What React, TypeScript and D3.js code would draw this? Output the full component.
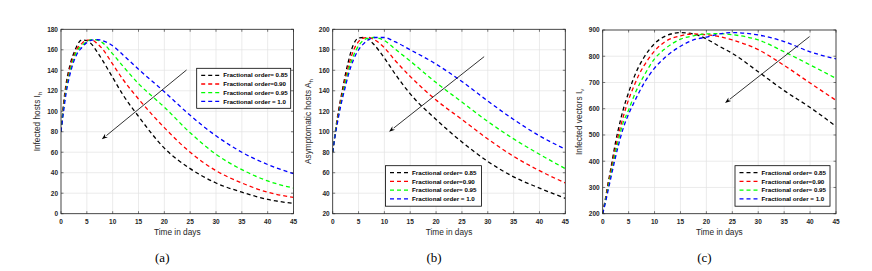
import React from 'react';
import * as d3 from 'd3';

// ---------- data ----------
const timeAB = [0, 0.5, 1, 1.5, 2, 2.5, 3, 4, 5, 6, 7, 8, 10, 12, 15, 20, 25, 30, 35, 40, 45];
const timeC = [0, 0.5, 1, 1.5, 2, 2.5, 3, 4, 5, 6, 7, 8, 10, 12, 15, 17.5, 20, 22.5, 25, 30, 35, 40, 45];

const legendLabels = [
  'Fractional order= 0.85',
  'Fractional order=0.90',
  'Fractional order= 0.95',
  'Fractional order = 1.0',
];
const seriesColors = ['#000000', '#ff0000', '#00ff00', '#0000ff'];

// (a) Infected hosts I_h
const ihOrder085 = [80, 108, 127, 140, 150, 157, 163, 169.5, 169, 165, 158, 150, 133, 116, 95, 64, 44, 30, 21, 14, 10];
const ihOrder090 = [80, 105, 124, 137, 147, 154, 160, 166, 169.5, 169.5, 166, 161, 146, 131, 112, 84, 60, 42, 30, 21, 16];
const ihOrder095 = [80, 103, 121, 134, 144, 152, 158, 164, 168, 170, 169.5, 167, 156, 144, 127, 104, 79, 58, 43, 32, 25];
const ihOrder100 = [80, 100, 118, 131, 141, 149, 155, 162, 167, 169.5, 170, 169, 164, 155, 141, 119, 96, 76, 60, 48, 39];

// (b) Asymptomatic hosts A_h
const ahOrder085 = [80, 100, 117, 131, 144, 157, 168, 185, 191.5, 192, 190, 185, 172, 157, 137, 112, 90, 71, 56, 45, 35];
const ahOrder090 = [80, 99, 115, 129, 141, 153, 163, 179, 188, 191.5, 192, 190, 182, 170, 154, 131, 112, 93, 76, 62, 50];
const ahOrder095 = [80, 98, 113, 126, 138, 149, 159, 174, 184, 189.5, 191.5, 192, 189, 181, 169, 148, 129, 110, 93, 78, 64];
const ahOrder100 = [80, 97, 111, 124, 135, 145, 155, 170, 180, 186, 190, 192, 192, 188, 180, 166, 149, 130, 112, 96, 83];

// (c) Infected vectors I_v
const ivOrder085 = [200, 255, 312, 365, 420, 475, 520, 600, 662, 718, 762, 797, 848, 876, 890, 885, 866, 838, 811, 741, 669, 605, 533];
const ivOrder090 = [200, 250, 305, 355, 405, 453, 497, 572, 635, 685, 730, 765, 820, 855, 878, 885, 882, 875, 862, 825, 765, 698, 632];
const ivOrder095 = [200, 245, 295, 343, 390, 437, 478, 550, 595, 647, 690, 727, 790, 828, 865, 878, 885, 886, 882, 862, 817, 767, 716];
const ivOrder100 = [200, 240, 285, 330, 375, 418, 458, 528, 580, 622, 662, 698, 755, 795, 838, 862, 873, 885, 890, 881, 856, 817, 790];

const xTicks = [0, 5, 10, 15, 20, 25, 30, 35, 40, 45];
const yTicksA = [0, 20, 40, 60, 80, 100, 120, 140, 160, 180];
const yTicksB = [20, 40, 60, 80, 100, 120, 140, 160, 180, 200];
const yTicksC = [200, 300, 400, 500, 600, 700, 800, 900];

// arrows: [tStart, vStart, tEnd, vEnd]
const arrowA = [24.3, 140.3, 7.9, 72.6];
const arrowB = [29.3, 173.3, 10.9, 100];
const arrowC = [39.9, 875, 23.6, 622];

// ---------- layout ----------
type Panel = {
  x0: number; x1: number; y0: number; y1: number;
  yDomain: [number, number]; yTicks: number[];
  time: number[]; series: number[][];
  arrow: number[];
  legend: { x: number; y: number; w: number; h: number };
  ylabel: string; ysub: string; ylabelX: number;
  caption: string;
};

const panels: Panel[] = [
  {
    x0: 61, x1: 293.5, y0: 29.3, y1: 213.7, yDomain: [0, 180], yTicks: yTicksA,
    time: timeAB, series: [ihOrder085, ihOrder090, ihOrder095, ihOrder100],
    arrow: arrowA, legend: { x: 196.7, y: 68.3, w: 94, h: 40 },
    ylabel: 'Infected  hosts I', ysub: 'h', ylabelX: 40, caption: '(a)',
  },
  {
    x0: 332.7, x1: 565.3, y0: 29.3, y1: 213.7, yDomain: [20, 200], yTicks: yTicksB,
    time: timeAB, series: [ahOrder085, ahOrder090, ahOrder095, ahOrder100],
    arrow: arrowB, legend: { x: 385.5, y: 165.7, w: 96, h: 40.5 },
    ylabel: 'Asymptomatic  hosts A', ysub: 'h', ylabelX: 311, caption: '(b)',
  },
  {
    x0: 602.7, x1: 836, y0: 30, y1: 213.7, yDomain: [200, 900], yTicks: yTicksC,
    time: timeC, series: [ivOrder085, ivOrder090, ivOrder095, ivOrder100],
    arrow: arrowC, legend: { x: 735, y: 165.7, w: 95, h: 40.5 },
    ylabel: 'Infected vectors I', ysub: 'v', ylabelX: 582, caption: '(c)',
  },
];

const sans = "'Liberation Sans', Arial, Helvetica, sans-serif";
const serif = "'Liberation Serif', 'Times New Roman', serif";
const dash = '4,3';

function PanelView({ p, idx }: { p: Panel; idx: number }) {
  const x = d3.scaleLinear().domain([0, 45]).range([p.x0, p.x1]);
  const y = d3.scaleLinear().domain(p.yDomain).range([p.y1, p.y0]);
  const line = d3
    .line<[number, number]>()
    .x((d) => x(d[0]))
    .y((d) => y(d[1]))
    .curve(d3.curveMonotoneX);
  const clipId = `clip${idx}`;
  const [ax1, ay1, ax2, ay2] = p.arrow;
  const sx = x(ax1), sy = y(ay1), ex = x(ax2), ey = y(ay2);
  const ang = Math.atan2(ey - sy, ex - sx);
  const hl = 6, hw = 2.2;
  const bx = ex - hl * Math.cos(ang), by = ey - hl * Math.sin(ang);
  const head = [
    [ex, ey],
    [bx + hw * Math.sin(ang), by - hw * Math.cos(ang)],
    [ex - (hl * 0.7) * Math.cos(ang), ey - (hl * 0.7) * Math.sin(ang)],
    [bx - hw * Math.sin(ang), by + hw * Math.cos(ang)],
  ];
  const cy = (p.y0 + p.y1) / 2;
  const cx = (p.x0 + p.x1) / 2;
  const tl = 2.5;
  return (
    <g>
      <defs>
        <clipPath id={clipId}>
          <rect x={p.x0} y={p.y0} width={p.x1 - p.x0} height={p.y1 - p.y0} />
        </clipPath>
      </defs>
      <rect x={p.x0} y={p.y0} width={p.x1 - p.x0} height={p.y1 - p.y0} fill="#fff" />
      {xTicks.map((t) => (
        <line key={'gx' + t} x1={x(t)} x2={x(t)} y1={p.y0} y2={p.y1} stroke="#e2e2e2" strokeWidth={0.7} />
      ))}
      {p.yTicks.map((t) => (
        <line key={'gy' + t} x1={p.x0} x2={p.x1} y1={y(t)} y2={y(t)} stroke="#e2e2e2" strokeWidth={0.7} />
      ))}
      <g clipPath={`url(#${clipId})`}>
        {p.series.map((s, i) => (
          <path
            key={i}
            d={line(p.time.map((t, j) => [t, s[j]] as [number, number])) || ''}
            fill="none"
            stroke={seriesColors[i]}
            strokeWidth={1.3}
            strokeDasharray={dash}
          />
        ))}
      </g>
      {xTicks.map((t) => (
        <g key={'tx' + t}>
          <line x1={x(t)} x2={x(t)} y1={p.y1} y2={p.y1 - tl} stroke="#262626" strokeWidth={0.6} />
          <line x1={x(t)} x2={x(t)} y1={p.y0} y2={p.y0 + tl} stroke="#262626" strokeWidth={0.6} />
          <text x={x(t)} y={223.5} fontSize={6.5} fontWeight="bold" fill="#262626" textAnchor="middle" fontFamily={sans}>
            {t}
          </text>
        </g>
      ))}
      {p.yTicks.map((t) => (
        <g key={'ty' + t}>
          <line x1={p.x0} x2={p.x0 + tl} y1={y(t)} y2={y(t)} stroke="#262626" strokeWidth={0.6} />
          <line x1={p.x1} x2={p.x1 - tl} y1={y(t)} y2={y(t)} stroke="#262626" strokeWidth={0.6} />
          <text x={p.x0 - 3} y={y(t) + 2.3} fontSize={6.5} fontWeight="bold" fill="#262626" textAnchor="end" fontFamily={sans}>
            {t}
          </text>
        </g>
      ))}
      <rect x={p.x0} y={p.y0} width={p.x1 - p.x0} height={p.y1 - p.y0} fill="none" stroke="#262626" strokeWidth={0.8} />
      <line x1={sx} y1={sy} x2={bx} y2={by} stroke="#000" strokeWidth={0.8} />
      <polygon points={head.map((h) => h.join(',')).join(' ')} fill="#000" />
      <rect x={p.legend.x} y={p.legend.y} width={p.legend.w} height={p.legend.h} fill="#fff" stroke="#000" strokeWidth={0.8} />
      {legendLabels.map((lab, i) => {
        const ry = p.legend.y + 7 + i * 8.7;
        return (
          <g key={'lg' + i}>
            <line x1={p.legend.x + 4.5} x2={p.legend.x + 25.5} y1={ry} y2={ry} stroke={seriesColors[i]} strokeWidth={1.3} strokeDasharray={dash} />
            <text x={p.legend.x + 26.5} y={ry + 2.1} fontSize={6.2} fontWeight="bold" fill="#000" fontFamily={sans}>
              {lab}
            </text>
          </g>
        );
      })}
      <text x={cx} y={235} fontSize={8.3} fill="#262626" textAnchor="middle" fontFamily={sans}>
        Time in days
      </text>
      <text
        transform={`translate(${p.ylabelX},${cy}) rotate(-90)`}
        fontSize={8.3}
        fill="#262626"
        textAnchor="middle"
        fontFamily={sans}
      >
        {p.ylabel}
        <tspan fontSize={6.2} dy={2}>{p.ysub}</tspan>
      </text>
      <text x={cx - 15} y={262} fontSize={13} fill="#000" textAnchor="middle" fontFamily={serif}>
        {p.caption}
      </text>
    </g>
  );
}

export default function App() {
  return (
    <svg
      width={872}
      height={271}
      viewBox="0 0 872 271"
      style={{ position: 'absolute', left: 0, top: 0, background: '#fff' }}
    >
      <rect x={0} y={0} width={872} height={271} fill="#fff" />
      {panels.map((p, i) => (
        <PanelView key={i} p={p} idx={i} />
      ))}
    </svg>
  );
}
